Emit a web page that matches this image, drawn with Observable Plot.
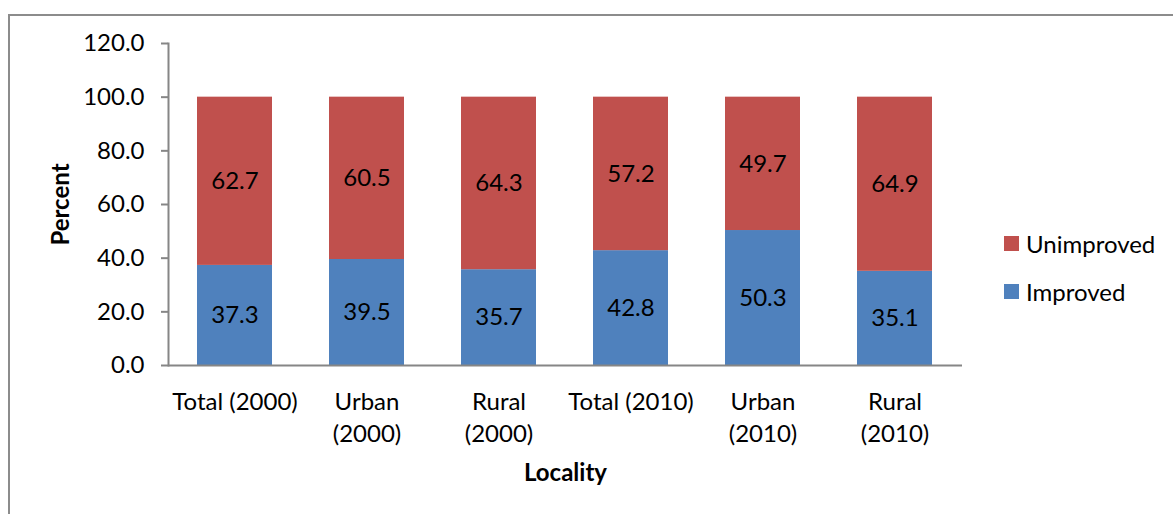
<!DOCTYPE html>
<html>
<head>
<meta charset="utf-8">
<script src="https://cdn.jsdelivr.net/npm/d3@7"></script>
<script src="https://cdn.jsdelivr.net/npm/@observablehq/plot@0.6"></script>
<style>
  html, body { margin: 0; padding: 0; background: #fff; overflow: hidden; }
  #wrap { position: relative; width: 1173px; height: 514px; font-family: Lato, sans-serif; }
  #border { position: absolute; left: 8px; top: 14px; width: 1200px; height: 600px; border: 2px solid #8c8c8c; box-sizing: border-box; }
  #chart { position: absolute; left: 0; top: 0; }
  [aria-label="y-axis tick"] { stroke: #868686; }
  .legend { position: absolute; left: 1004px; font-size: 24px; color: #000; display: flex; align-items: center; height: 24px; }
  .legend .sw { width: 15px; height: 15px; margin-right: 7px; }
</style>
</head>
<body>
<div id="wrap">
  <div id="border"></div>
  <div id="chart"></div>
</div>
<script>
const categories = ["Total (2000)", "Urban (2000)", "Rural (2000)", "Total (2010)", "Urban (2010)", "Rural (2010)"];
const tickLabels = ["Total (2000)", "Urban\n(2000)", "Rural\n(2000)", "Total (2010)", "Urban\n(2010)", "Rural\n(2010)"];
const improved = [37.3, 39.5, 35.7, 42.8, 50.3, 35.1];
const unimproved = [62.7, 60.5, 64.3, 57.2, 49.7, 64.9];
const seriesNames = ["Improved", "Unimproved"];
const seriesColors = ["#4F81BD", "#C0504D"];
const yTicks = [0, 20, 40, 60, 80, 100, 120];

const rows = [];
categories.forEach((c, i) => rows.push({cat: c, series: "Improved", value: improved[i]}));
categories.forEach((c, i) => rows.push({cat: c, series: "Unimproved", value: unimproved[i]}));
const labelOf = new Map(categories.map((c, i) => [c, tickLabels[i]]));

const chart = Plot.plot({
  width: 1173,
  height: 514,
  marginLeft: 168,
  marginRight: 211,
  marginTop: 43,
  marginBottom: 149,
  style: {fontFamily: "Lato, sans-serif", fontSize: "24px", color: "#000", background: "transparent"},
  x: {domain: categories, paddingInner: 0.43, paddingOuter: 0.215, label: null},
  y: {domain: [0, 120], label: null},
  color: {domain: seriesNames, range: seriesColors},
  marks: [
    Plot.barY(rows, Plot.stackY({x: "cat", y: "value", z: "series", fill: "series", order: seriesNames})),
    Plot.text(rows, Plot.stackY({x: "cat", y: "value", z: "series", order: seriesNames, text: d => d.value.toFixed(1), fill: "#000", fontSize: 24})),
    Plot.frame({anchor: "left", stroke: "#868686", strokeWidth: 2}),
    Plot.ruleY([0], {stroke: "#868686", strokeWidth: 2}),
    Plot.axisY({ticks: yTicks, tickSize: 7, tickPadding: 17, strokeWidth: 2, tickFormat: d => d.toFixed(1), fontSize: 24, label: null}),
    Plot.axisX({tickSize: 0, tickPadding: 21, lineHeight: 1.35, tickFormat: d => labelOf.get(d), fontSize: 24, label: null}),
    Plot.text(["Percent"], {frameAnchor: "left", dx: -107, rotate: -90, textAnchor: "middle", lineAnchor: "middle", fontWeight: "bold", fontSize: 24, fill: "#000"}),
    Plot.text(["Locality"], {frameAnchor: "bottom", dy: 108, textAnchor: "middle", lineAnchor: "middle", fontWeight: "bold", fontSize: 24, fill: "#000"})
  ]
});
document.getElementById("chart").appendChild(chart);

const wrap = document.getElementById("wrap");
[["Unimproved", 1, 231], ["Improved", 0, 279]].forEach(([name, idx, top]) => {
  const d = document.createElement("div");
  d.className = "legend";
  d.style.top = top + "px";
  const sw = document.createElement("div");
  sw.className = "sw";
  sw.style.background = seriesColors[idx];
  const t = document.createElement("span");
  t.textContent = name;
  d.appendChild(sw);
  d.appendChild(t);
  wrap.appendChild(d);
});
</script>
</body>
</html>
